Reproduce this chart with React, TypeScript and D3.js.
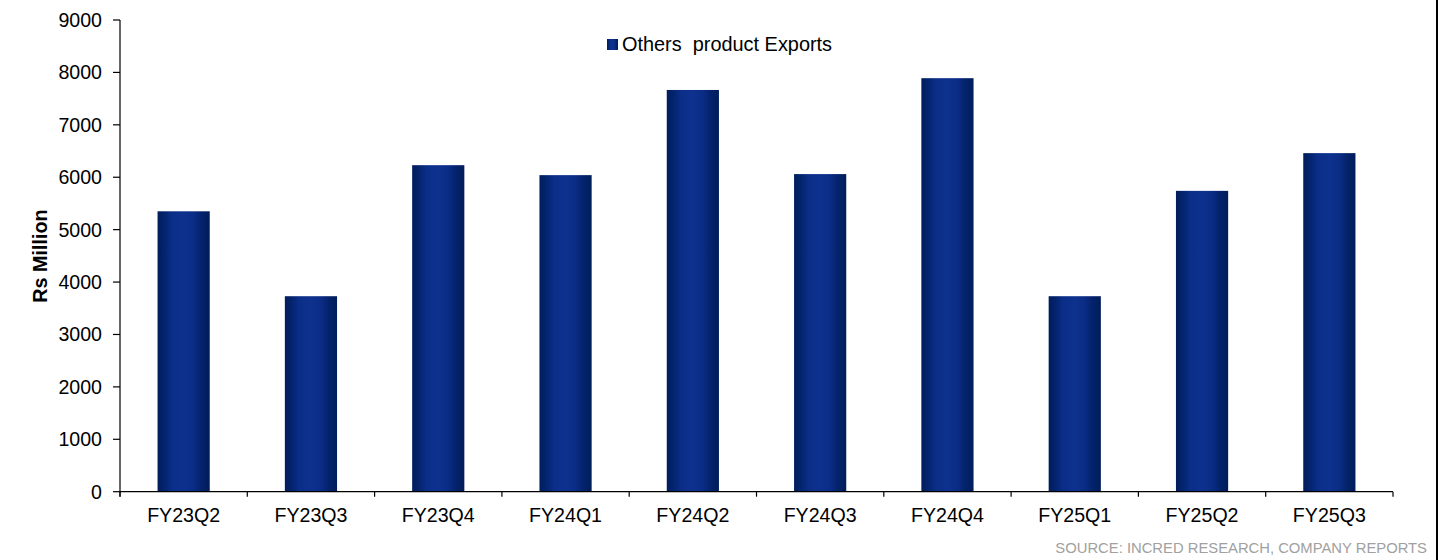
import React from "react";
import * as d3 from "d3";

const categories = ["FY23Q2", "FY23Q3", "FY23Q4", "FY24Q1", "FY24Q2", "FY24Q3", "FY24Q4", "FY25Q1", "FY25Q2", "FY25Q3"];
const exportsValues = [5350, 3730, 6230, 6040, 7665, 6060, 7890, 3730, 5740, 6460];
const yTicks = [0, 1000, 2000, 3000, 4000, 5000, 6000, 7000, 8000, 9000];
const seriesName = "Others  product Exports";
const yTitle = "Rs Million";
const sourceText = "SOURCE: INCRED RESEARCH, COMPANY REPORTS";

const W = 1443;
const H = 560;
const FONT = "'Liberation Sans', Arial, Helvetica, sans-serif";

export default function App() {
  const x = d3.scaleBand<string>().domain(categories).range([120, 1393]).paddingInner(0.59).paddingOuter(0.295);
  const y = d3.scaleLinear().domain([0, 9000]).range([491.7, 20]);
  const step = x.step();
  const bounds = d3.range(categories.length + 1).map((i) => 120 + i * step);

  return (
    <svg width={W} height={H} style={{ position: "absolute", left: 0, top: 0, background: "#fff" }} fontFamily={FONT}>
      <defs>
        <linearGradient id="barGrad" x1="0" y1="0" x2="1" y2="0">
          <stop offset="0%" stopColor="#001d5c" />
          <stop offset="12%" stopColor="#03236c" />
          <stop offset="28%" stopColor="#0b2e88" />
          <stop offset="50%" stopColor="#0d318e" />
          <stop offset="68%" stopColor="#0b2d86" />
          <stop offset="85%" stopColor="#03226a" />
          <stop offset="100%" stopColor="#001d5a" />
        </linearGradient>
      </defs>
      <rect x={0} y={0} width={W} height={H} fill="#fff" />

      {categories.map((c, i) => (
        <rect key={c} x={x(c)} y={y(exportsValues[i])} width={x.bandwidth()} height={y(0) - y(exportsValues[i])} fill="url(#barGrad)" />
      ))}

      {/* Y axis */}
      <line x1={120} x2={120} y1={y(9000)} y2={y(0) + 5} stroke="#000" strokeWidth={1.2} />
      {yTicks.map((t) => (
        <g key={t}>
          <line x1={113} x2={120} y1={y(t)} y2={y(t)} stroke="#000" strokeWidth={1.2} />
          <text x={102} y={y(t)} dy="0.35em" textAnchor="end" fontSize={19.6} fill="#000">
            {t}
          </text>
        </g>
      ))}

      {/* X axis */}
      <line x1={120} x2={1393} y1={y(0)} y2={y(0)} stroke="#000" strokeWidth={1.2} />
      {bounds.map((b, i) => (
        <line key={i} x1={b} x2={b} y1={y(0)} y2={y(0) + 5} stroke="#000" strokeWidth={1.2} />
      ))}
      {categories.map((c) => (
        <text key={c} x={(x(c) as number) + x.bandwidth() / 2} y={522} textAnchor="middle" fontSize={19.6} fill="#000">
          {c}
        </text>
      ))}

      {/* Y title */}
      <text transform={`translate(46.5,256) rotate(-90)`} textAnchor="middle" fontSize={19.8} fontWeight="bold" fill="#000">
        {yTitle}
      </text>

      {/* Legend */}
      <rect x={607} y={39} width={11} height={11} fill="url(#barGrad)" />
      <text x={622} y={51} fontSize={19.9} fill="#000" style={{ whiteSpace: "pre" }} xmlSpace="preserve">
        {seriesName}
      </text>

      {/* Source */}
      <text x={1427} y={553} textAnchor="end" fontSize={14.8} fill="#a0a0a0">
        {sourceText}
      </text>

      {/* right border */}
      <line x1={1437} x2={1437} y1={0} y2={H} stroke="#000" strokeWidth={2} />
    </svg>
  );
}
